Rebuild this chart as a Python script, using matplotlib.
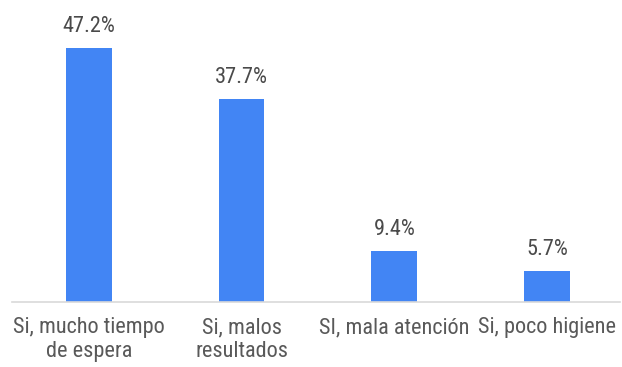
import matplotlib.pyplot as plt

categories = ['Si, mucho tiempo\nde espera', 'Si, malos\nresultados',
              'SI, mala atención', 'Si, poco higiene']
values = [47.2, 37.7, 9.4, 5.7]

plt.rcParams['font.family'] = ['Roboto Condensed', 'Liberation Sans', 'DejaVu Sans']

fig = plt.figure(figsize=(6.22, 3.67), dpi=100)
ax = fig.add_axes([0.019, 0.177, 0.978, 0.823])

x = range(len(categories))
bars = ax.bar(x, values, width=0.30, color='#4285F4')
for b, v in zip(bars, values):
    ax.annotate(f'{v:.1f}%', (b.get_x() + b.get_width() / 2, v),
                xytext=(0, 11.5), textcoords='offset points',
                ha='center', va='baseline', fontsize=16, color='#4a4a4a')

ax.set_xlim(-0.504, 3.478)
ax.set_ylim(0, 56.1)
ax.set_xticks(list(x))
ax.set_xticklabels(categories, fontsize=16, color='#595959', linespacing=1.15)
ax.tick_params(axis='x', length=0, pad=11)
ax.set_yticks([])
for s in ['top', 'left', 'right']:
    ax.spines[s].set_visible(False)
ax.spines['bottom'].set_color('#d9d9d9')
ax.spines['bottom'].set_linewidth(1.2)

fig.savefig('out.png', dpi=100)
